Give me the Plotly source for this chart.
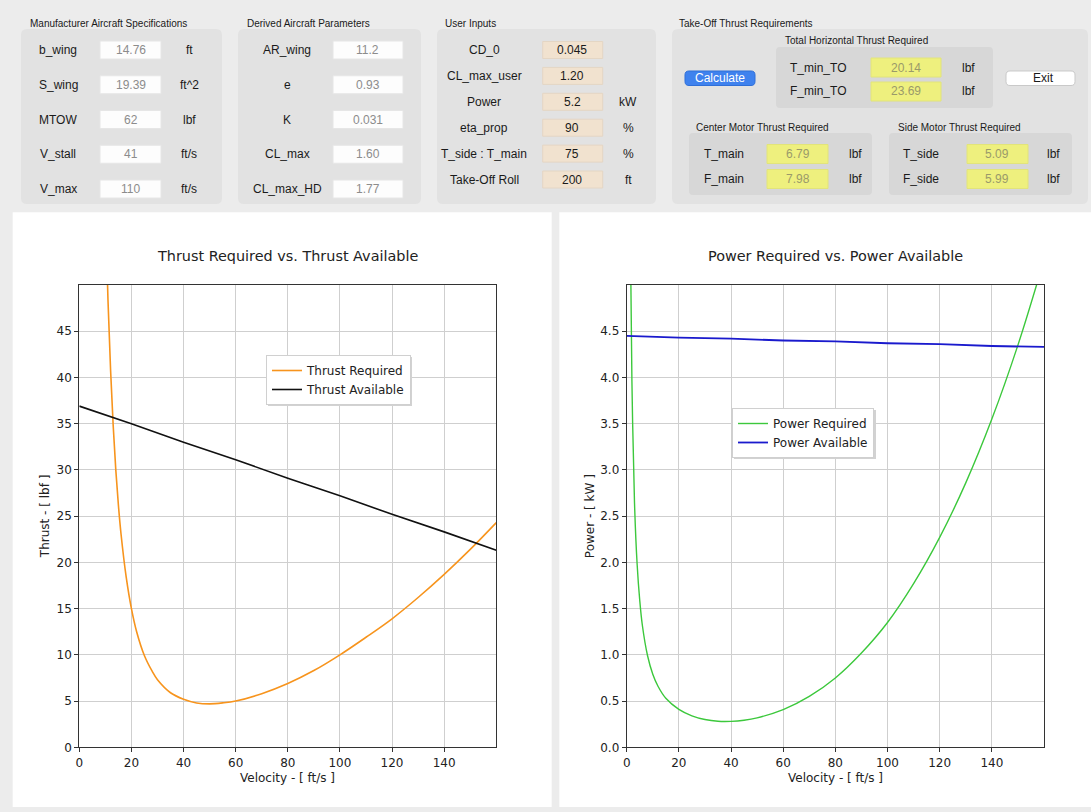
import plotly.graph_objects as go

# ---------------- data ----------------
v_treq = [10, 11, 12, 13, 14, 15, 16, 18, 20, 22, 25, 28, 30, 35, 40, 45, 50, 55,
          60, 70, 80, 90, 100, 110, 120, 130, 140, 150, 160]
thrust_required = [58.6, 48.4, 40.8, 34.8, 30.0, 26.2, 23.1, 18.4, 15.0, 12.5, 9.9, 8.2,
                   7.3, 5.9, 5.2, 4.8, 4.7, 4.8, 5.0, 5.8, 6.9, 8.3, 10.0, 11.9, 13.9,
                   16.2, 18.7, 21.4, 24.3]
v_tav = [0, 20, 40, 60, 80, 100, 120, 140, 160]
thrust_available = [36.9, 35.0, 33.0, 31.1, 29.1, 27.2, 25.2, 23.3, 21.3]

v_preq = [1.5, 2, 3, 4, 5, 6, 8, 10, 12, 15, 20, 25, 30, 35, 40, 45, 50, 60, 70, 80,
          90, 100, 110, 120, 130, 140, 150, 160]
power_required = [5.29, 3.96, 2.64, 1.98, 1.59, 1.32, 0.99, 0.79, 0.66, 0.53, 0.41, 0.34,
                  0.30, 0.281, 0.280, 0.292, 0.318, 0.407, 0.55, 0.75, 1.02, 1.35, 1.77, 2.27,
                  2.86, 3.55, 4.35, 5.27]
v_pav = [0, 20, 40, 60, 80, 100, 120, 140, 160]
power_available = [4.45, 4.43, 4.42, 4.40, 4.39, 4.37, 4.36, 4.34, 4.33]

thrust_ticks = [0, 5, 10, 15, 20, 25, 30, 35, 40, 45]
power_ticks = [0.0, 0.5, 1.0, 1.5, 2.0, 2.5, 3.0, 3.5, 4.0, 4.5]
velocity_ticks = [0, 20, 40, 60, 80, 100, 120, 140]

spec_labels = ["b_wing", "S_wing", "MTOW", "V_stall", "V_max"]
spec_values = ["14.76", "19.39", "62", "41", "110"]
spec_units = ["ft", "ft^2", "lbf", "ft/s", "ft/s"]
derived_labels = ["AR_wing", "e", "K", "CL_max", "CL_max_HD"]
derived_values = ["11.2", "0.93", "0.031", "1.60", "1.77"]
input_labels = ["CD_0", "CL_max_user", "Power", "eta_prop", "T_side : T_main", "Take-Off Roll"]
input_values = ["0.045", "1.20", "5.2", "90", "75", "200"]
input_units = ["", "", "kW", "%", "%", "ft"]
total_labels = ["T_min_TO", "F_min_TO"]
total_values = ["20.14", "23.69"]
center_labels = ["T_main", "F_main"]
center_values = ["6.79", "7.98"]
side_labels = ["T_side", "F_side"]
side_values = ["5.09", "5.99"]

# ---------------- helpers ----------------
W, H = 1091, 812
def X(px): return px / W
def Y(py): return 1 - py / H

shapes = []
annotations = []
GUI_FONT = "Liberation Sans, Arial, sans-serif"
PLOT_FONT = "DejaVu Sans, sans-serif"

def rect(x0, y0, x1, y1, fill, line=None, lw=1, r=0, layer="below"):
    if r <= 0:
        shapes.append(dict(type="rect", xref="paper", yref="paper", x0=X(x0), x1=X(x1),
                           y0=Y(y1), y1=Y(y0), fillcolor=fill,
                           line=dict(color=line or fill, width=lw if line else 0), layer=layer))
    else:
        pts = lambda a, b: f"{X(a):.6f},{Y(b):.6f}"
        p = (f"M {pts(x0 + r, y0)} L {pts(x1 - r, y0)} Q {pts(x1, y0)} {pts(x1, y0 + r)} "
             f"L {pts(x1, y1 - r)} Q {pts(x1, y1)} {pts(x1 - r, y1)} L {pts(x0 + r, y1)} "
             f"Q {pts(x0, y1)} {pts(x0, y1 - r)} L {pts(x0, y0 + r)} Q {pts(x0, y0)} {pts(x0 + r, y0)} Z")
        shapes.append(dict(type="path", xref="paper", yref="paper", path=p, fillcolor=fill,
                           line=dict(color=line or fill, width=lw if line else 0), layer=layer))

def text(x, y, s, size=12, color="#1a1a1a", anchor="center", family=GUI_FONT, angle=0):
    annotations.append(dict(x=X(x), y=Y(y), xref="paper", yref="paper", text=s, showarrow=False,
                            xanchor=anchor, yanchor="middle", textangle=angle,
                            font=dict(family=family, size=size, color=color)))

# ---------------- GUI panels ----------------
GROUP = "#e2e2e2"
SUB = "#d7d7d7"
# group 1
text(28, 24, "Manufacturer Aircraft Specifications", size=10, anchor="left")
rect(21, 29, 222, 204, GROUP, r=6)
for i, (lab, val, unit) in enumerate(zip(spec_labels, spec_values, spec_units)):
    yc = 50 + 34.75 * i
    text(58, yc, lab)
    rect(100, yc - 9, 161, yc + 9, "#fdfdfd", line="#e6e6e6")
    text(130.5, yc, val, color="#8c8c8c")
    text(189, yc, unit)
# group 2
text(245, 24, "Derived Aircraft Parameters", size=10, anchor="left")
rect(238, 29, 421, 204, GROUP, r=6)
for i, (lab, val) in enumerate(zip(derived_labels, derived_values)):
    yc = 50 + 34.75 * i
    text(287, yc, lab)
    rect(333, yc - 9, 403, yc + 9, "#fdfdfd", line="#e6e6e6")
    text(368, yc, val, color="#8c8c8c")
# group 3
text(443, 24, "User Inputs", size=10, anchor="left")
rect(437, 29, 656, 204, GROUP, r=6)
for i, (lab, val, unit) in enumerate(zip(input_labels, input_values, input_units)):
    yc = 50 + 25.9 * i
    text(484, yc, lab)
    rect(542.7, yc - 8.5, 602.7, yc + 8.5, "#f1e2cf", line="#e4d6c4")
    text(572, yc, val, color="#1a1a1a")
    if unit:
        text(628, yc, unit)
# group 4
text(677, 24, "Take-Off Thrust Requirements", size=10, anchor="left")
rect(672, 29, 1088, 204, GROUP, r=6)
text(856, 41, "Total Horizontal Thrust Required", size=10)
rect(776, 47, 993, 108, SUB, r=4)
for i, (lab, val) in enumerate(zip(total_labels, total_values)):
    yc = 67.5 + 24 * i
    text(818, yc, lab)
    rect(871, yc - 9.5, 941, yc + 9.5, "#eef07e", line="#e2e47a")
    text(906, yc, val, color="#9a9a6a")
    text(968, yc, "lbf")
# buttons
rect(685, 71, 755, 85.5, "#3f82ee", line="#2f6fd8", r=4)
text(720, 78, "Calculate", color="white")
rect(1006, 71, 1075, 85.5, "#ffffff", line="#c9c9c9", r=4)
text(1043, 78, "Exit")
# center / side motor
text(694, 127, "Center Motor Thrust Required", size=10, anchor="left")
rect(689, 133, 872, 195, SUB, r=4)
text(896, 127, "Side Motor Thrust Required", size=10, anchor="left")
rect(889, 133, 1072, 195, SUB, r=4)
for i in range(2):
    yc = 154 + 25 * i
    text(724, yc, center_labels[i])
    rect(767, yc - 9.5, 828, yc + 9.5, "#eef07e", line="#e2e47a")
    text(797.5, yc, center_values[i], color="#9a9a6a")
    text(855, yc, "lbf")
    text(921, yc, side_labels[i])
    rect(967, yc - 9.5, 1028, yc + 9.5, "#eef07e", line="#e2e47a")
    text(997.5, yc, side_values[i], color="#9a9a6a")
    text(1053, yc, "lbf")

# plot panels
rect(12.7, 212.3, 551.7, 807, "#ffffff")
rect(559.3, 212.3, 1091, 807, "#ffffff")

# ---------------- plots ----------------
L0, L1 = 79.3, 496.3
R0, R1 = 626.7, 1044
T0, B0 = 285, 747.3

fig = go.Figure()
fig.add_trace(go.Scatter(x=v_treq, y=thrust_required, mode="lines", name="Thrust Required",
                         line=dict(color="#f7941d", width=1.6, shape="spline"),
                         xaxis="x", yaxis="y", legend="legend"))
fig.add_trace(go.Scatter(x=v_tav, y=thrust_available, mode="lines", name="Thrust Available",
                         line=dict(color="#111111", width=1.6),
                         xaxis="x", yaxis="y", legend="legend"))
fig.add_trace(go.Scatter(x=v_preq, y=power_required, mode="lines", name="Power Required",
                         line=dict(color="#3cc83c", width=1.4, shape="spline"),
                         xaxis="x2", yaxis="y2", legend="legend2"))
fig.add_trace(go.Scatter(x=v_pav, y=power_available, mode="lines", name="Power Available",
                         line=dict(color="#1a1acd", width=1.8),
                         xaxis="x2", yaxis="y2", legend="legend2"))

axis_common = dict(showgrid=True, gridcolor="#cfcfcf", gridwidth=1, showline=True,
                   linecolor="#333333", linewidth=1, mirror=True, zeroline=False,
                   ticks="outside", ticklen=4, tickcolor="#333333", automargin=False,
                   tickfont=dict(family=PLOT_FONT, size=12, color="#222222"))

text((L0 + L1) / 2, 256, "Thrust Required vs. Thrust Available", size=14.4, color="#222222", family=PLOT_FONT)
text((R0 + R1) / 2, 256, "Power Required vs. Power Available", size=14.4, color="#222222", family=PLOT_FONT)
text((L0 + L1) / 2, 778, "Velocity - [ ft/s ]", size=12, color="#222222", family=PLOT_FONT)
text((R0 + R1) / 2, 778, "Velocity - [ ft/s ]", size=12, color="#222222", family=PLOT_FONT)
text(45, (T0 + B0) / 2, "Thrust - [ lbf ]", size=12, color="#222222", family=PLOT_FONT, angle=-90)
text(590, (T0 + B0) / 2, "Power - [ kW ]", size=12, color="#222222", family=PLOT_FONT, angle=-90)

# legend shadows
rect(268, 357, 412, 406, "#d2d2d2", layer="above")
rect(734, 410, 876, 459, "#d2d2d2", layer="above")

legend_common = dict(xref="paper", yref="paper", xanchor="left", yanchor="top",
                     bgcolor="#ffffff", bordercolor="#d0d0d0", borderwidth=1,
                     font=dict(family=PLOT_FONT, size=12, color="#222222"),
                     itemwidth=30, tracegroupgap=0)

fig.update_layout(
    width=W, height=H,
    margin=dict(l=0, r=0, t=0, b=0, autoexpand=False),
    paper_bgcolor="#ececec",
    plot_bgcolor="#ffffff",
    showlegend=True,
    xaxis=dict(domain=[X(L0), X(L1)], range=[0, 160], tickvals=velocity_ticks, anchor="y", **axis_common),
    yaxis=dict(domain=[Y(B0), Y(T0)], range=[0, 50], tickvals=thrust_ticks, anchor="x", **axis_common),
    xaxis2=dict(domain=[X(R0), X(R1)], range=[0, 160], tickvals=velocity_ticks, anchor="y2", **axis_common),
    yaxis2=dict(domain=[Y(B0), Y(T0)], range=[0, 5], tickvals=power_ticks, tickformat=".1f",
                anchor="x2", **axis_common),
    legend=dict(x=X(266), y=Y(355), **legend_common),
    legend2=dict(x=X(732), y=Y(408), **legend_common),
    shapes=shapes,
    annotations=annotations,
)

fig.write_html("out.html", config={"displayModeBar": False},
               post_script="document.body.style.margin='0';document.body.style.padding='0';"
                           "document.documentElement.style.overflow='hidden';")
